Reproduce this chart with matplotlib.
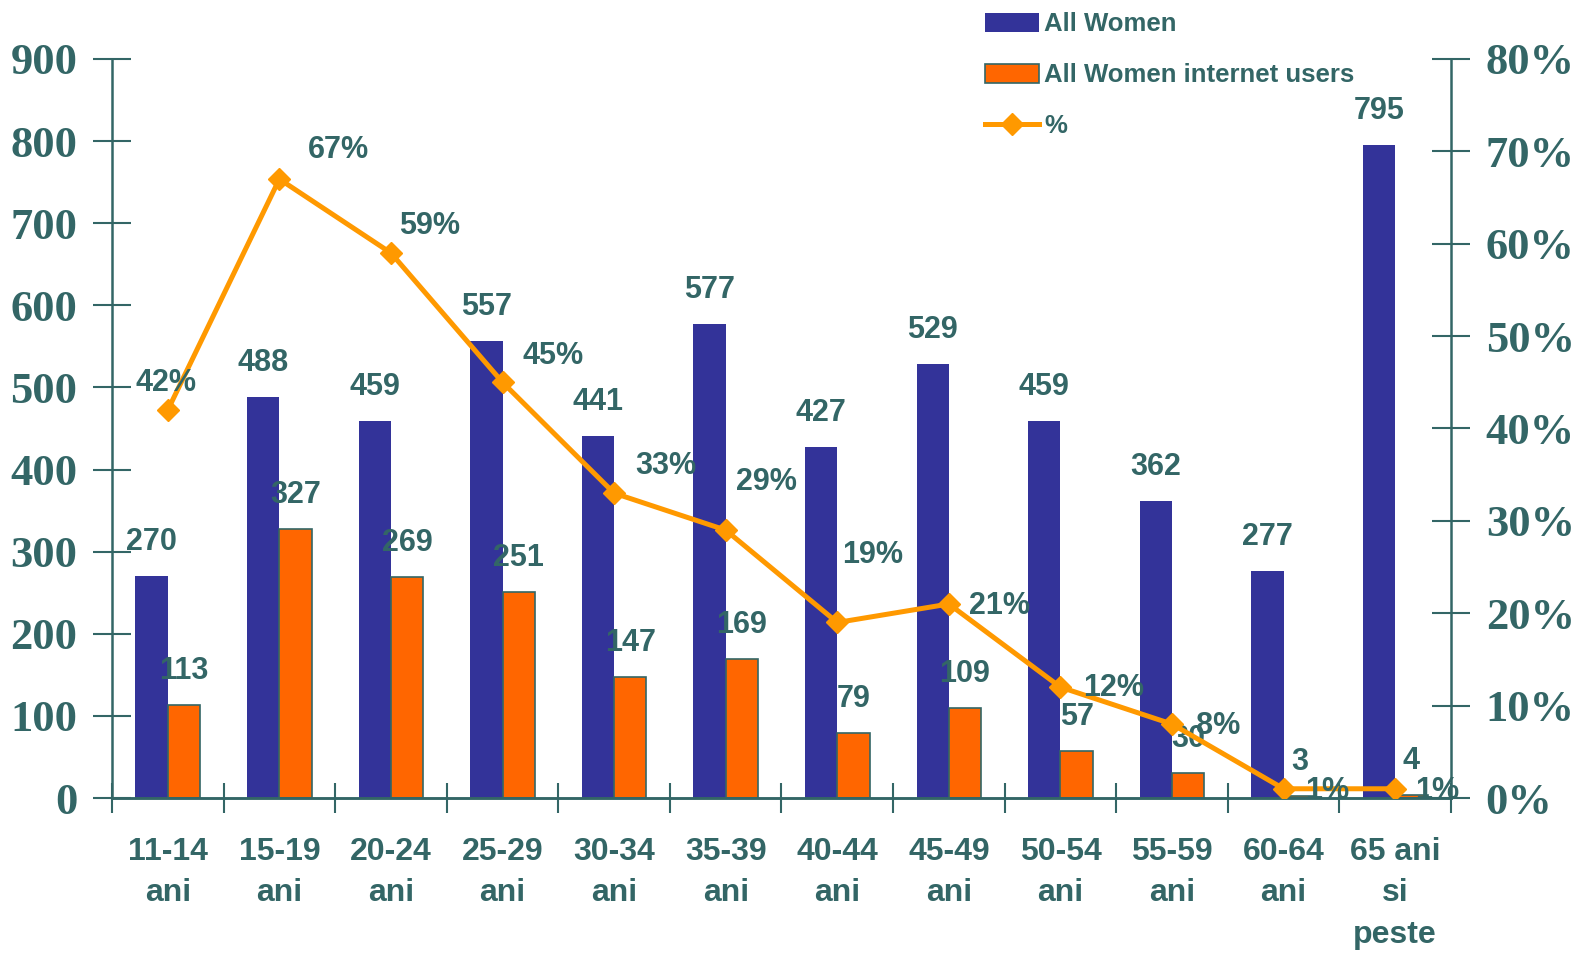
import numpy as np
import matplotlib.pyplot as plt

# date
categories = ['11-14\nani', '15-19\nani', '20-24\nani', '25-29\nani', '30-34\nani',
              '35-39\nani', '40-44\nani', '45-49\nani', '50-54\nani', '55-59\nani',
              '60-64\nani', '65 ani\nsi\npeste']
all_women = [270, 488, 459, 557, 441, 577, 427, 529, 459, 362, 277, 795]
internet_users = [113, 327, 269, 251, 147, 169, 79, 109, 57, 30, 3, 4]
pct = [42, 67, 59, 45, 33, 29, 19, 21, 12, 8, 1, 1]

# pozitia etichetelor procentuale (pixeli fata de punct)
pct_offsets = [(-2, 27), (59, 29), (39, 27), (51, 26), (52, 27), (41, 48),
               (35, 67), (51, -2), (53, -1), (46, -2), (44, -2), (42, -2)]

teal = '#336666'
blue = '#333399'
orange = '#FF6600'
gold = '#FF9900'

plt.rcParams['font.family'] = ['Liberation Sans', 'DejaVu Sans']

fig = plt.figure(figsize=(15.77, 9.57), dpi=100)
ax = fig.add_axes([112 / 1577, 1 - 798 / 957, (1451 - 112) / 1577, (798 - 59) / 957])
ax2 = ax.twinx()

x = np.arange(len(categories))
w = 0.29
b1 = ax.bar(x - w / 2, all_women, w, color=blue, label='All Women', zorder=2)
b2 = ax.bar(x + w / 2, internet_users, w, color=orange, edgecolor=teal, linewidth=1.2,
            label='All Women internet users', zorder=2)

for xi, v in zip(x, all_women):
    ax.annotate(str(v), (xi - w / 2, v), xytext=(0, 34), textcoords='offset pixels',
                ha='center', va='center', fontsize=22, fontweight='bold', color=teal, zorder=5)
for xi, v in zip(x, internet_users):
    ax.annotate(str(v), (xi + w / 2, v), xytext=(0, 34), textcoords='offset pixels',
                ha='center', va='center', fontsize=22, fontweight='bold', color=teal, zorder=5)

ln, = ax2.plot(x, np.array(pct) / 100, color=gold, lw=3.6, marker='D', markersize=11,
               label='%', zorder=3)
for xi, p, off in zip(x, pct, pct_offsets):
    ax2.annotate(f'{p}%', (xi, p / 100), xytext=off, textcoords='offset pixels',
                 ha='center', va='center', fontsize=22, fontweight='bold', color=teal)

ax.set_xlim(-0.5, len(categories) - 0.5)
ax.set_ylim(0, 900)
ax2.set_ylim(0, 0.8)

ax.set_yticks(np.arange(0, 901, 100))
ax2.set_yticks(np.arange(0, 0.81, 0.1))
ax2.set_yticklabels([f'{int(round(t * 100))}%' for t in np.arange(0, 0.81, 0.1)])

ax.set_xticks(np.arange(-0.5, len(categories), 1))
ax.set_xticklabels([])
ax.set_xticks(x, minor=True)
ax.set_xticklabels(categories, minor=True, fontsize=23, fontweight='bold', color=teal,
                   linespacing=1.5, va='top')
ax.tick_params(axis='x', which='minor', length=0, pad=28)
ax.tick_params(axis='x', which='major', direction='inout', length=22, width=1.5, color=teal)

for a in (ax, ax2):
    a.tick_params(axis='y', direction='inout', length=28, width=1.5, color=teal, pad=11)
    for s in a.spines.values():
        s.set_color(teal)
        s.set_linewidth(1.8)
    a.spines['top'].set_visible(False)
for lab in ax.get_yticklabels() + ax2.get_yticklabels():
    lab.set_fontfamily('Liberation Serif')
    lab.set_fontweight('bold')
    lab.set_fontsize(32)
    lab.set_color(teal)
ax.spines['right'].set_visible(False)
ax2.spines['left'].set_visible(False)

ax.set_zorder(ax2.get_zorder() - 1)
ax2.patch.set_visible(False)

leg = fig.legend(handles=[b1, b2, ln], loc='upper left', bbox_to_anchor=(975 / 1577, 1 - 2 / 957),
                 frameon=False, fontsize=18.5, handlelength=2.1, handleheight=0.75,
                 labelspacing=1.05, handletextpad=0.2, borderaxespad=0)
for t in leg.get_texts():
    t.set_color(teal)
    t.set_fontweight('bold')

fig.savefig('out.png', dpi=100)
